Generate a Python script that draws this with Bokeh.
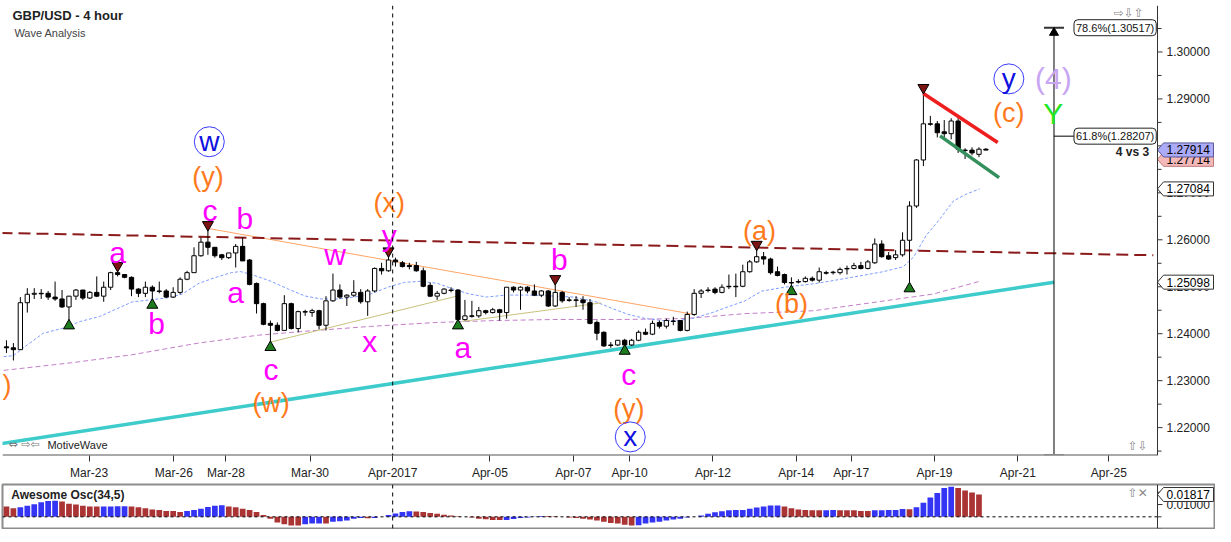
from bokeh.plotting import figure
from bokeh.models import (Range1d, FixedTicker, Span, Label, ColumnDataSource,
                          CustomJSTickFormatter)
from bokeh.layouts import column
from bokeh.embed import file_html
from bokeh.resources import INLINE
from bokeh.core.properties import value

# ---------------- data (GBP/USD, 4 hour candles) ----------------
opens = [
    1.2372, 1.2370, 1.2366, 1.2466, 1.2484, 1.2486, 1.2486, 1.2478, 1.2474, 1.2457,
    1.2480, 1.2493, 1.2476, 1.2488, 1.2480, 1.2499, 1.2530, 1.2526, 1.2520, 1.2495,
    1.2486, 1.2499, 1.2491, 1.2491, 1.2478, 1.2488, 1.2516, 1.2530, 1.2566, 1.2595,
    1.2584, 1.2568, 1.2562, 1.2572, 1.2586, 1.2557, 1.2507, 1.2464, 1.2422, 1.2418,
    1.2407, 1.2464, 1.2411, 1.2447, 1.2445, 1.2449, 1.2418, 1.2470, 1.2493, 1.2478,
    1.2482, 1.2488, 1.2468, 1.2491, 1.2539, 1.2534, 1.2557, 1.2551, 1.2545, 1.2545,
    1.2534, 1.2503, 1.2480, 1.2486, 1.2493, 1.2493, 1.2430, 1.2438, 1.2438, 1.2449,
    1.2445, 1.2451, 1.2445, 1.2499, 1.2493, 1.2499, 1.2491, 1.2482, 1.2491, 1.2459,
    1.2488, 1.2472, 1.2472, 1.2472, 1.2466, 1.2424, 1.2403, 1.2376, 1.2376, 1.2386,
    1.2376, 1.2386, 1.2403, 1.2399, 1.2424, 1.2416, 1.2426, 1.2428, 1.2407, 1.2441,
    1.2486, 1.2493, 1.2495, 1.2488, 1.2501, 1.2501, 1.2501, 1.2532, 1.2553, 1.2564,
    1.2559, 1.2532, 1.2526, 1.2509, 1.2511, 1.2511, 1.2518, 1.2514, 1.2530, 1.2530,
    1.2530, 1.2539, 1.2539, 1.2545, 1.2539, 1.2551, 1.2591, 1.2566, 1.2562, 1.2568,
    1.2599, 1.2672, 1.2770, 1.2847, 1.2847, 1.2830, 1.2826, 1.2853, 1.2791, 1.2791,
    1.2782, 1.2793]
highs = [
    1.2386, 1.2380, 1.2478, 1.2497, 1.2497, 1.2495, 1.2491, 1.2511, 1.2493, 1.2480,
    1.2495, 1.2493, 1.2491, 1.2522, 1.2511, 1.2532, 1.2537, 1.2526, 1.2522, 1.2497,
    1.2511, 1.2503, 1.2511, 1.2495, 1.2499, 1.2520, 1.2534, 1.2584, 1.2605, 1.2624,
    1.2584, 1.2570, 1.2572, 1.2591, 1.2605, 1.2559, 1.2509, 1.2466, 1.2428, 1.2424,
    1.2482, 1.2466, 1.2449, 1.2451, 1.2453, 1.2451, 1.2480, 1.2528, 1.2505, 1.2484,
    1.2514, 1.2495, 1.2495, 1.2541, 1.2551, 1.2568, 1.2562, 1.2555, 1.2551, 1.2553,
    1.2541, 1.2509, 1.2491, 1.2497, 1.2499, 1.2495, 1.2472, 1.2470, 1.2457, 1.2451,
    1.2455, 1.2453, 1.2499, 1.2501, 1.2501, 1.2501, 1.2505, 1.2493, 1.2493, 1.2509,
    1.2491, 1.2478, 1.2480, 1.2480, 1.2474, 1.2428, 1.2405, 1.2382, 1.2386, 1.2389,
    1.2389, 1.2407, 1.2411, 1.2428, 1.2428, 1.2432, 1.2436, 1.2428, 1.2447, 1.2495,
    1.2495, 1.2499, 1.2499, 1.2505, 1.2526, 1.2528, 1.2547, 1.2557, 1.2582, 1.2574,
    1.2562, 1.2543, 1.2528, 1.2520, 1.2516, 1.2522, 1.2522, 1.2541, 1.2534, 1.2534,
    1.2541, 1.2545, 1.2551, 1.2553, 1.2557, 1.2603, 1.2599, 1.2574, 1.2578, 1.2616,
    1.2682, 1.2772, 1.2916, 1.2864, 1.2853, 1.2855, 1.2859, 1.2859, 1.2795, 1.2797,
    1.2797, 1.2795]
lows = [
    1.2359, 1.2343, 1.2366, 1.2445, 1.2474, 1.2474, 1.2472, 1.2470, 1.2455, 1.2426,
    1.2472, 1.2472, 1.2474, 1.2478, 1.2468, 1.2493, 1.2522, 1.2518, 1.2480, 1.2478,
    1.2478, 1.2470, 1.2486, 1.2476, 1.2476, 1.2484, 1.2514, 1.2530, 1.2564, 1.2568,
    1.2562, 1.2557, 1.2559, 1.2541, 1.2555, 1.2503, 1.2443, 1.2418, 1.2380, 1.2405,
    1.2407, 1.2409, 1.2403, 1.2438, 1.2436, 1.2409, 1.2407, 1.2468, 1.2474, 1.2459,
    1.2478, 1.2464, 1.2438, 1.2488, 1.2526, 1.2532, 1.2543, 1.2541, 1.2537, 1.2532,
    1.2499, 1.2478, 1.2472, 1.2484, 1.2488, 1.2426, 1.2428, 1.2434, 1.2434, 1.2441,
    1.2443, 1.2428, 1.2432, 1.2488, 1.2451, 1.2486, 1.2480, 1.2478, 1.2457, 1.2457,
    1.2466, 1.2468, 1.2457, 1.2451, 1.2420, 1.2386, 1.2372, 1.2370, 1.2374, 1.2372,
    1.2374, 1.2384, 1.2397, 1.2397, 1.2411, 1.2411, 1.2418, 1.2405, 1.2405, 1.2438,
    1.2476, 1.2488, 1.2484, 1.2486, 1.2495, 1.2478, 1.2499, 1.2530, 1.2551, 1.2547,
    1.2526, 1.2522, 1.2505, 1.2499, 1.2507, 1.2509, 1.2511, 1.2509, 1.2526, 1.2526,
    1.2526, 1.2526, 1.2537, 1.2537, 1.2537, 1.2549, 1.2562, 1.2557, 1.2557, 1.2564,
    1.2505, 1.2668, 1.2757, 1.2843, 1.2818, 1.2818, 1.2814, 1.2785, 1.2772, 1.2780,
    1.2776, 1.2791]
closes = [
    1.2370, 1.2366, 1.2466, 1.2484, 1.2486, 1.2485, 1.2478, 1.2474, 1.2457, 1.2480,
    1.2493, 1.2476, 1.2488, 1.2480, 1.2499, 1.2530, 1.2526, 1.2520, 1.2495, 1.2486,
    1.2499, 1.2491, 1.2490, 1.2478, 1.2488, 1.2516, 1.2530, 1.2566, 1.2595, 1.2584,
    1.2566, 1.2562, 1.2572, 1.2586, 1.2555, 1.2505, 1.2464, 1.2420, 1.2418, 1.2407,
    1.2464, 1.2411, 1.2447, 1.2446, 1.2449, 1.2418, 1.2470, 1.2493, 1.2478, 1.2482,
    1.2488, 1.2468, 1.2491, 1.2539, 1.2534, 1.2557, 1.2553, 1.2543, 1.2543, 1.2534,
    1.2501, 1.2480, 1.2486, 1.2495, 1.2492, 1.2430, 1.2438, 1.2437, 1.2449, 1.2445,
    1.2451, 1.2445, 1.2499, 1.2493, 1.2499, 1.2491, 1.2482, 1.2491, 1.2459, 1.2488,
    1.2470, 1.2471, 1.2471, 1.2466, 1.2422, 1.2401, 1.2374, 1.2375, 1.2386, 1.2376,
    1.2386, 1.2403, 1.2399, 1.2422, 1.2416, 1.2428, 1.2427, 1.2407, 1.2441, 1.2486,
    1.2491, 1.2492, 1.2488, 1.2499, 1.2500, 1.2500, 1.2532, 1.2553, 1.2564, 1.2559,
    1.2530, 1.2524, 1.2509, 1.2508, 1.2510, 1.2518, 1.2514, 1.2532, 1.2529, 1.2531,
    1.2537, 1.2538, 1.2545, 1.2539, 1.2553, 1.2591, 1.2564, 1.2559, 1.2568, 1.2599,
    1.2672, 1.2770, 1.2847, 1.2846, 1.2828, 1.2826, 1.2853, 1.2793, 1.2790, 1.2785,
    1.2793, 1.2791]

# Awesome oscillator (34,5)
ao_vals = [
    0.0085, 0.0070, 0.0077, 0.0090, 0.0102, 0.0119, 0.0129, 0.0130, 0.0124, 0.0107,
    0.0100, 0.0090, 0.0085, 0.0084, 0.00845, 0.0085, 0.00855, 0.0086, 0.0085, 0.0077,
    0.0070, 0.0060, 0.0055, 0.0048, 0.0047, 0.0040, 0.0047, 0.0055, 0.0065, 0.0080,
    0.0090, 0.0095, 0.0085, 0.0077, 0.0065, 0.0055, 0.0040, 0.0015, -0.0015, -0.0047,
    -0.0060, -0.0070, -0.0071, -0.0060, -0.0055, -0.0054, -0.0055, -0.0040, -0.0035, -0.0030,
    -0.0015, -0.0010, -0.0011, -0.00095, 0.0001, 0.0015, 0.0027, 0.0040, 0.0045, 0.0044,
    0.0040, 0.0032, 0.0025, 0.0017, 0.0010, 0.0005, 0.0000, -0.0005, -0.0015, -0.0020,
    -0.0025, -0.0026, -0.0025, -0.0017, -0.0010, -0.0005, 0.00025, 0.0007, 0.00065, 0.0005,
    0.0000, -0.0005, -0.0010, -0.0015, -0.0022, -0.0030, -0.0040, -0.0050, -0.0055, -0.0065,
    -0.0070, -0.0069, -0.0055, -0.0047, -0.0040, -0.0030, -0.0022, -0.0015, -0.0005, 0.0001,
    0.0010, 0.0025, 0.0037, 0.0045, 0.0054, 0.0055, 0.0056, 0.0065, 0.0075, 0.0085,
    0.0092, 0.0093, 0.0085, 0.0070, 0.0060, 0.0055, 0.00545, 0.0054, 0.00545, 0.0055,
    0.00545, 0.0054, 0.00535, 0.0048, 0.0047, 0.0054, 0.00545, 0.0055, 0.00555, 0.0063,
    0.0062, 0.0077, 0.0114, 0.0157, 0.0194, 0.0234, 0.0244, 0.0234, 0.0214, 0.0197,
    0.01817]

# swing markers (bar index)
swing_high_bars = [16, 29, 55, 79, 108, 132]
swing_low_bars = [9, 21, 38, 65, 89, 113, 130]

# moving averages (bar, price)
ma_fast_x = [-0.4, 1.0, 3.0, 5.3, 8.1, 10.6, 13.4, 15.9, 18.1, 20.6, 23.0, 25.3, 27.7, 30.1,
             32.4, 33.7, 35.3, 38.1, 40.6, 43.0, 45.3, 47.7, 50.1, 52.4, 54.9, 57.3, 59.6,
             62.0, 64.4, 66.7, 69.1, 72.0, 74.9, 78.7, 81.6, 84.9, 87.3, 89.6, 92.0, 94.4,
             96.7, 98.7, 101.6, 103.9, 106.3, 108.7, 112.0, 116.7, 121.6, 126.3, 129.1,
             130.6, 132.4, 134.4, 136.3, 138.1, 140.1]
ma_fast_y = [1.23511, 1.23532, 1.23761, 1.24010, 1.24115, 1.24260, 1.24365, 1.24531, 1.24677,
             1.24719, 1.24760, 1.24844, 1.25073, 1.25198, 1.25302, 1.25323, 1.25260, 1.25115,
             1.24948, 1.24802, 1.24740, 1.24740, 1.24781, 1.24844, 1.24990, 1.25094, 1.25115,
             1.25073, 1.24948, 1.24844, 1.24781, 1.24823, 1.24823, 1.24802, 1.24781, 1.24677,
             1.24531, 1.24406, 1.24323, 1.24281, 1.24281, 1.24323, 1.24448, 1.24573, 1.24698,
             1.24906, 1.24990, 1.25073, 1.25198, 1.25323, 1.25427, 1.25635, 1.26094, 1.26448,
             1.26823, 1.26969, 1.27084]
ma_slow_x = [-0.4, 9.6, 18.1, 27.7, 36.3, 43.0, 52.4, 62.0, 70.6, 78.7, 88.1, 97.7, 106.3,
             116.3, 133.4, 140.1]
ma_slow_y = [1.23219, 1.23385, 1.23552, 1.23802, 1.23969, 1.24052, 1.24156, 1.24240, 1.24281,
             1.24302, 1.24302, 1.24323, 1.24427, 1.24490, 1.24844, 1.25115]

# trend lines: (x0, x1), (y0, y1)
resist_x, resist_y = [-0.86, 165.1], [1.26146, 1.25671]
support_x, support_y = [-0.86, 150.8], [1.21656, 1.25098]
red_x, red_y = [132.0, 142.7], [1.29115, 1.28073]
green_x, green_y = [134.4, 142.9], [1.28213, 1.27323]
orange_x, orange_y = [29.1, 99.1], [1.26240, 1.24406]
olive1_x, olive1_y = [38.1, 64.9], [1.23823, 1.24802]
olive2_x, olive2_y = [65.6, 85.6], [1.24260, 1.24656]

# fibonacci projection
fib_bar = 150.8
fib_low = 1.2142
fib_levels = [1.30517, 1.28207]
fib_texts = ["78.6%(1.30517)", "61.8%(1.28207)"]

# wave labels
mag_text = ["a", "b", "c", "b", "a", "c", "w", "y", "x", "a", "b", "c"]
mag_x = [16.0, 21.6, 29.3, 34.3, 33.0, 38.1, 47.3, 55.1, 52.3, 65.7, 79.6, 89.6]
mag_y = [1.25740, 1.24219, 1.26615, 1.26448, 1.24886, 1.23240, 1.25677, 1.26094,
         1.23844, 1.23698, 1.25573, 1.23135]
org_text = ["(y)", "(x)", "(w)", "(a)", "(b)", "(c)", "(y)"]
org_x = [29.0, 55.1, 38.1, 108.4, 113.0, 144.3, 89.6]
org_y = [1.27344, 1.26781, 1.22531, 1.26198, 1.24635, 1.28698, 1.22406]
edge_text, edge_y = ")", 1.22906
circ_text = ["w", "x", "y"]
circ_x = [29.2, 89.8, 144.3]
circ_y = [1.28088, 1.21802, 1.29427]

# axes
tick_bars = [11.9, 24.1, 31.6, 43.7, 55.6, 69.6, 81.6, 89.7, 101.7, 113.7, 121.6, 133.6, 145.6, 158.7]
tick_labels = ["Mar-23", "Mar-26", "Mar-28", "Mar-30", "Apr-2017", "Apr-05", "Apr-07",
               "Apr-10", "Apr-12", "Apr-14", "Apr-17", "Apr-19", "Apr-21", "Apr-25"]
price_ticks = [1.22, 1.23, 1.24, 1.25, 1.26, 1.27, 1.28, 1.29, 1.30]
price_tick_labels = ["1.22000", "1.23000", "1.24000", "1.25000", "1.26000", "1.27000", "",
                     "1.29000", "1.30000"]
price_minor = [1.215, 1.225, 1.235, 1.245, 1.255, 1.265, 1.275, 1.285, 1.295, 1.305]
tag_prices = [1.27714, 1.27914, 1.27084, 1.25098]
tag_fills = ["#F3B8B8", "#ABABF7", "white", "white"]
tag_lines = ["#C07878", "#5A5A9A", "#333333", "#333333"]
ao_ticks = [0.01, 0.02]
ao_tick_labels = ["0.01000", "0.02000"]
ao_minor = [-0.01, 0.0]
month_line_bar = 55.6

FONT = "Liberation Sans"

# ---------------- geometry ----------------
X_START = -0.57          # first visible bar position (left frame edge)
AX = 165.7               # bar position of the price scale line
AXIS_PX = 1155           # pixels from frame left edge to price scale line
FW = 1213                # frame width incl. price-scale strip
KX = AXIS_PX / (AX - X_START)          # pixels per bar
X_END = X_START + FW / KX
Y_START, Y_END, FH = 1.21406, 1.30990, 450
KY = (Y_END - Y_START) / FH            # price per pixel
AO_Y0, AO_Y1, AO_FH = -0.0095, 0.0263, 44
KY_AO = (AO_Y1 - AO_Y0) / AO_FH


def price_scale(fig, ticks, labels, minor):
    """Draw a price scale strip inside the frame, right of the AX line."""
    fig.add_layout(Span(location=AX, dimension="height", line_color="#333333", line_width=1))
    fig.segment(x0=[AX] * len(ticks), y0=ticks, x1=[AX + 5 / KX] * len(ticks), y1=ticks,
                line_color="#333333", line_width=1)
    fig.segment(x0=[AX] * len(minor), y0=minor, x1=[AX + 4 / KX] * len(minor), y1=minor,
                line_color="#333333", line_width=1)
    fig.text([AX + 9 / KX] * len(ticks), ticks, text=labels,
             text_font=value(FONT), text_font_size="12px", text_align="left",
             text_baseline="middle", text_color="#222222")


def tag(fig, price, fill, line, ky):
    h = 7 * ky
    fig.patch([AX, AX + 6 / KX, AX + 56 / KX, AX + 56 / KX, AX + 6 / KX],
              [price, price + h, price + h, price - h, price - h],
              fill_color=fill, line_color=line, line_width=1)
    fig.text([AX + 9 / KX], [price], text=["%.5f" % price], text_font=value(FONT),
             text_font_size="12px", text_align="left", text_baseline="middle",
             text_color="black")


# ---------------- main price panel ----------------
p = figure(frame_width=FW, frame_height=FH,
           x_range=Range1d(X_START, X_END), y_range=Range1d(Y_START, Y_END),
           y_axis_location=None, output_backend="svg", toolbar_location=None,
           min_border_left=2, min_border_right=0, min_border_top=5, min_border_bottom=24)
p.xgrid.visible = False
p.ygrid.visible = False
p.outline_line_color = None

p.xaxis.ticker = FixedTicker(ticks=tick_bars, minor_ticks=[])
p.xaxis.formatter = CustomJSTickFormatter(args=dict(t=tick_bars, l=tick_labels), code="""
let best = 0;
for (let i = 0; i < t.length; i++) { if (Math.abs(t[i]-tick) < Math.abs(t[best]-tick)) best = i; }
return l[best];
""")
p.xaxis.major_label_text_font = FONT
p.xaxis.major_label_text_font_size = "12px"
p.xaxis.major_label_text_color = "#222222"
p.xaxis.major_tick_in = 0
p.xaxis.major_tick_out = 6
p.xaxis.major_tick_line_color = "#333333"
p.xaxis.major_label_standoff = 4
p.xaxis.axis_line_color = None

# frame bottom line (stops at the price scale)
p.segment(x0=[X_START], y0=[Y_START], x1=[AX], y1=[Y_START], line_color="#555555", line_width=2)

# moving averages and thin lines
p.line(ma_slow_x, ma_slow_y, line_color="#C47FC8", line_width=1, line_dash="5 3")
p.line(ma_fast_x, ma_fast_y, line_color="#7D9CFF", line_width=1, line_dash="3 2")
p.line(orange_x, orange_y, line_color="#FFA466", line_width=1)
p.line(olive1_x, olive1_y, line_color="#C9C27E", line_width=1)
p.line(olive2_x, olive2_y, line_color="#C9C27E", line_width=1)
p.line(resist_x, resist_y, line_color="#8B1A1A", line_width=2, line_dash="12 6")
p.line(support_x, support_y, line_color="#3DCBCB", line_width=3.5)

p.add_layout(Span(location=month_line_bar, dimension="height", line_color="black",
                  line_width=1, line_dash="4 4"))

# candles
idx = list(range(len(closes)))
src = ColumnDataSource(dict(
    x=idx, h=highs, l=lows,
    top=[max(o, c) for o, c in zip(opens, closes)],
    bot=[min(o, c) for o, c in zip(opens, closes)],
    fill=["white" if c >= o else "black" for o, c in zip(opens, closes)]))
p.segment(x0="x", y0="l", x1="x", y1="h", source=src, line_color="black", line_width=1)
p.vbar(x="x", top="top", bottom="bot", width=0.62, fill_color="fill",
       line_color="black", line_width=1, source=src)

p.line(red_x, red_y, line_color="#EE1E1E", line_width=3.5)
p.line(green_x, green_y, line_color="#33905C", line_width=3.5)

# swing triangles
p.scatter(swing_high_bars, [highs[i] + 0.0008 for i in swing_high_bars],
          marker="inverted_triangle", size=11, fill_color="#7D1414", line_color="black")
p.scatter(swing_low_bars, [lows[i] - 0.0009 for i in swing_low_bars],
          marker="triangle", size=11, fill_color="#1E7B1E", line_color="black")

# fibonacci projection
p.segment(x0=[fib_bar], y0=[fib_low], x1=[fib_bar], y1=[fib_levels[0]], line_color="black", line_width=1)
p.segment(x0=[fib_bar - 10 / KX], y0=[fib_levels[0]], x1=[fib_bar + 10 / KX], y1=[fib_levels[0]],
          line_color="#333333", line_width=2)
p.segment(x0=[fib_bar - 10 / KX], y0=[fib_low], x1=[fib_bar + 10 / KX], y1=[fib_low],
          line_color="#888888", line_width=1.5)
p.segment(x0=[fib_bar], y0=[fib_levels[1]], x1=[fib_bar + 20 / KX], y1=[fib_levels[1]],
          line_color="black", line_width=1)
p.scatter([fib_bar], [fib_levels[0] - 5 * KY], marker="triangle", size=9,
          fill_color="black", line_color="black")
for lv, tx in zip(fib_levels, fib_texts):
    p.add_layout(Label(x=fib_bar + 20 / KX, y=lv, text=tx, text_font=FONT, text_font_size="11px",
                       text_baseline="middle", text_color="#111111",
                       background_fill_color="white", border_line_color="#222222",
                       border_line_width=1, padding=2, border_radius=4))

# wave labels
p.text(mag_x, mag_y, text=mag_text, text_font=value(FONT), text_font_size="30px",
       text_align="center", text_baseline="middle", text_color="#FF00FF")
p.text(org_x, org_y, text=org_text, text_font=value(FONT), text_font_size="27px",
       text_align="center", text_baseline="middle", text_color="#FF7A1C")
p.text([X_START], [edge_y], text=[edge_text], text_font=value(FONT), text_font_size="27px",
       text_align="left", text_baseline="middle", text_color="#FF7A1C")
p.scatter(circ_x, circ_y, marker="circle", size=30, fill_color=None,
          line_color="#3B3BFF", line_width=1)
p.text(circ_x, circ_y, text=circ_text, text_font=value(FONT), text_font_size="28px",
       text_align="center", text_baseline="middle", text_color="#1010E0")
p.text([150.7], [1.29427], text=["(4)"], text_font=value(FONT), text_font_size="30px",
       text_align="center", text_baseline="middle", text_color="#C8A5F2")
p.text([150.7], [1.28698], text=["Y"], text_font=value(FONT), text_font_size="30px",
       text_align="center", text_baseline="middle", text_color="#22E622")

p.add_layout(Label(x=AX - 1.2, y=1.27865, text="4 vs 3", text_font=FONT, text_font_size="12px",
                   text_font_style="bold", text_align="right", text_baseline="middle",
                   text_color="#222222"))

# titles / branding
p.add_layout(Label(x=0.86, y=1.30781, text="GBP/USD - 4 hour", text_font=FONT,
                   text_font_size="13px", text_font_style="bold", text_baseline="middle",
                   text_color="#222222"))
p.add_layout(Label(x=1.14, y=1.30406, text="Wave Analysis", text_font=FONT,
                   text_font_size="11px", text_baseline="middle", text_color="#444444"))
p.add_layout(Label(x=5.9, y=1.21635, text="MotiveWave", text_font=FONT,
                   text_font_size="11px", text_baseline="middle", text_color="#222222"))
p.add_layout(Label(x=0.3, y=1.21635, text="\u21d4 \u21e8\u21e6", text_font="DejaVu Sans",
                   text_font_size="11px", text_baseline="middle", text_color="#777777"))
p.add_layout(Label(x=AX - 6.3, y=1.30829, text="\u21e8\u21e9\u21e7", text_font="DejaVu Sans",
                   text_font_size="12px", text_baseline="middle", text_color="#888888"))
p.add_layout(Label(x=AX - 4.3, y=1.21615, text="\u21e7\u21e9", text_font="DejaVu Sans",
                   text_font_size="12px", text_baseline="middle", text_color="#888888"))

# price scale and tags
price_scale(p, price_ticks, price_tick_labels, price_minor)
for tp, tf, tl in zip(tag_prices, tag_fills, tag_lines):
    tag(p, tp, tf, tl, KY)

# ---------------- awesome oscillator panel ----------------
ao = figure(frame_width=FW, frame_height=AO_FH, x_range=p.x_range,
            y_range=Range1d(AO_Y0, AO_Y1), y_axis_location=None, x_axis_location=None,
            output_backend="svg", toolbar_location=None,
            min_border_left=2, min_border_right=0, min_border_top=2, min_border_bottom=1)
ao.xgrid.visible = False
ao.ygrid.visible = False
ao.outline_line_color = "#8c8c8c"
ao.outline_line_width = 2
ao_idx = list(range(len(ao_vals)))
ao_colors = ["#AA3333"] + ["#3434F4" if ao_vals[i] > ao_vals[i - 1] else "#AA3333"
                           for i in range(1, len(ao_vals))]
ao.vbar(x=ao_idx, top=ao_vals, bottom=0, width=0.82, fill_color=ao_colors, line_color=None)
ao.segment(x0=[X_START], y0=[0], x1=[AX], y1=[0], line_color="black", line_width=1, line_dash="3 3")
ao.add_layout(Span(location=month_line_bar, dimension="height", line_color="black",
                   line_width=1, line_dash="4 4"))
price_scale(ao, ao_ticks, ao_tick_labels, ao_minor)
tag(ao, ao_vals[-1], "white", "#333333", KY_AO)
ao.add_layout(Label(x=0.7, y=0.0176, text="Awesome Osc(34,5)", text_font=FONT,
                    text_font_size="12px", text_font_style="bold", text_baseline="middle",
                    text_color="#222222"))
ao.add_layout(Label(x=AX - 4.3, y=0.0190, text="\u21e7\u2715", text_font="DejaVu Sans",
                    text_font_size="12px", text_baseline="middle", text_color="#888888"))

layout = column(p, ao, spacing=0)
open("out.html", "w").write(file_html(layout, INLINE))
